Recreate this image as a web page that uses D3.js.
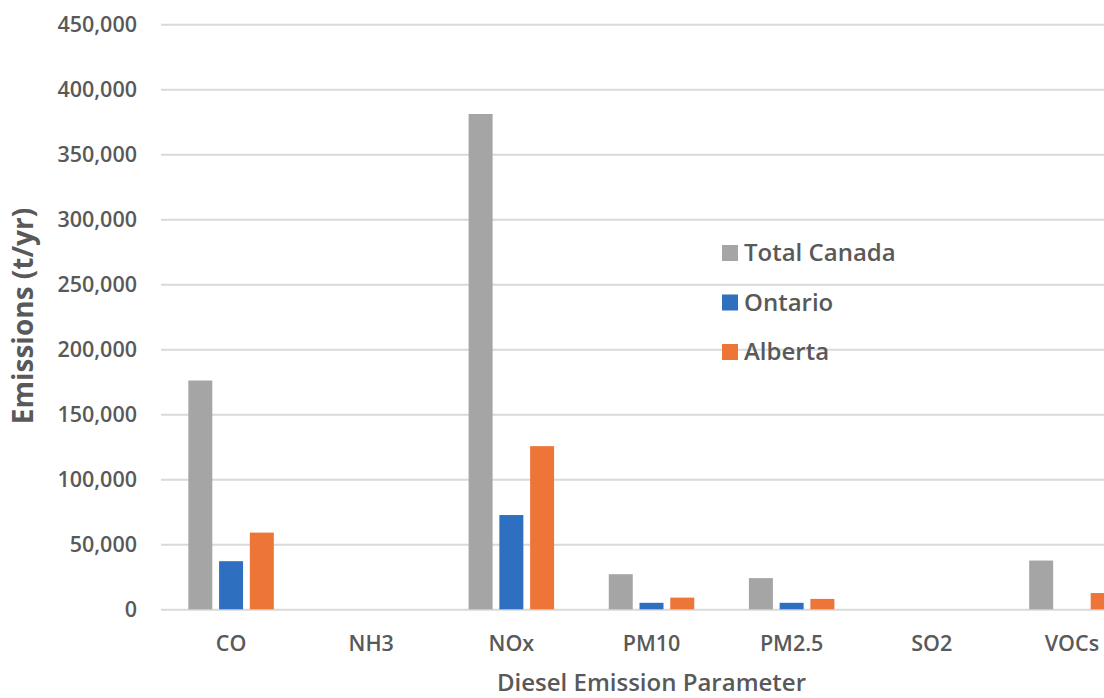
<!DOCTYPE html>
<html>
<head>
<meta charset="utf-8">
<script src="https://cdn.jsdelivr.net/npm/d3@7"></script>
<style>
  html, body { margin: 0; padding: 0; background: #fff; overflow: hidden; }
  svg { display: block; font-family: "Open Sans", "Noto Sans", sans-serif; }
</style>
</head>
<body>
<svg id="chart" width="1104" height="698"></svg>
<script>
// Diesel emissions by parameter (t/yr)
const categories = ["CO", "NH3", "NOx", "PM10", "PM2.5", "SO2", "VOCs"];
const seriesNames = ["Total Canada", "Ontario", "Alberta"];
const totalCanada = [176000, 0, 381000, 27000, 24000, 0, 37500];
const ontario     = [37000, 0, 72500, 5000, 5000, 0, 0];
const alberta     = [59000, 0, 125500, 9000, 8000, 0, 12500];
const yTicks = [0, 50000, 100000, 150000, 200000, 250000, 300000, 350000, 400000, 450000];
const colors = ["#A5A5A5", "#2E6FC0", "#EE7538"];

const seriesValues = [totalCanada, ontario, alberta];
const rows = categories.map((c, i) => ({
  category: c,
  values: seriesNames.map((s, j) => ({ series: s, index: j, value: seriesValues[j][i] }))
}));

const svg = d3.select("#chart");
const plot = { left: 161, right: 1142, top: 24.3, bottom: 609.3 };
const textColor = "#595959";

const x0 = d3.scaleBand()
  .domain(categories)
  .range([plot.left, plot.right])
  .paddingInner(0.39)
  .paddingOuter(0.195);

const x1 = d3.scaleBand()
  .domain(seriesNames)
  .range([0, x0.bandwidth()])
  .paddingInner(0.22)
  .paddingOuter(0);

const y = d3.scaleLinear()
  .domain([0, 450000])
  .range([plot.bottom, plot.top]);

// Horizontal gridlines and value labels
const yAxis = d3.axisLeft(y)
  .tickValues(yTicks)
  .tickFormat(d3.format(","))
  .tickSize(-(plot.right - plot.left))
  .tickPadding(24);

const gy = svg.append("g")
  .attr("transform", `translate(${plot.left},0)`)
  .call(yAxis)
  .attr("font-family", null)
  .attr("font-size", null);
gy.select(".domain").remove();
gy.selectAll(".tick line")
  .attr("stroke", "#D9D9D9")
  .attr("stroke-width", 2);
gy.selectAll(".tick text")
  .attr("fill", textColor)
  .attr("font-size", 21.5)
  .attr("font-weight", 600);

// Grouped bars
const groups = svg.append("g")
  .selectAll("g")
  .data(rows)
  .join("g")
  .attr("transform", d => `translate(${x0(d.category)},0)`);

groups.selectAll("rect")
  .data(d => d.values)
  .join("rect")
  .attr("x", d => x1(d.series))
  .attr("width", x1.bandwidth())
  .attr("y", d => y(d.value))
  .attr("height", d => y(0) - y(d.value))
  .attr("fill", d => colors[d.index]);

// Category labels
const xAxis = d3.axisBottom(x0).tickSize(0).tickPadding(26);
const gx = svg.append("g")
  .attr("transform", `translate(0,${plot.bottom})`)
  .call(xAxis)
  .attr("font-family", null)
  .attr("font-size", null);
gx.select(".domain").remove();
gx.selectAll(".tick text")
  .attr("fill", textColor)
  .attr("font-size", 21.5)
  .attr("font-weight", 600);

// Axis titles
svg.append("text")
  .attr("transform", `translate(33,316) rotate(-90)`)
  .attr("text-anchor", "middle")
  .attr("fill", textColor)
  .attr("font-size", 28)
  .attr("font-weight", 700)
  .text("Emissions (t/yr)");

svg.append("text")
  .attr("x", (plot.left + plot.right) / 2)
  .attr("y", 691)
  .attr("text-anchor", "middle")
  .attr("fill", textColor)
  .attr("font-size", 24)
  .attr("font-weight", 600)
  .text("Diesel Emission Parameter");

// Legend
const legend = svg.append("g")
  .selectAll("g")
  .data(seriesNames)
  .join("g")
  .attr("transform", (d, i) => `translate(722,${253 + i * 49.5})`);

legend.append("rect")
  .attr("x", 0)
  .attr("y", -8)
  .attr("width", 16)
  .attr("height", 16)
  .attr("fill", (d, i) => colors[i]);

legend.append("text")
  .attr("x", 22)
  .attr("y", 0)
  .attr("dy", "0.35em")
  .attr("fill", textColor)
  .attr("font-size", 24)
  .attr("font-weight", 600)
  .text(d => d);
</script>
</body>
</html>
